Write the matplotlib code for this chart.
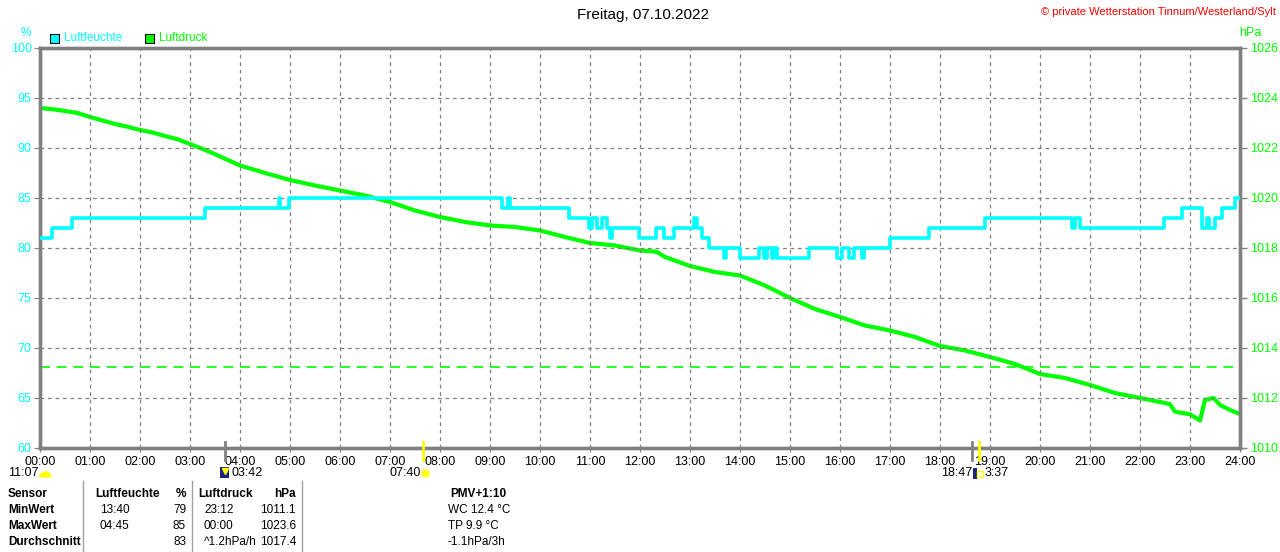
import matplotlib
matplotlib.use('Agg')
from matplotlib import pyplot as plt
from matplotlib.patches import Rectangle
import numpy as np

plt.rcParams['font.family'] = ['Liberation Sans', 'DejaVu Sans']

# Luftfeuchte (%), Stufenwerte: Zeit in Stunden, Wert gilt ab dieser Zeit
hum_t = [0.0, 0.24, 0.64, 3.3, 4.77, 4.8, 4.97, 9.23, 9.37, 9.4, 10.58,
         10.97, 11.03, 11.13, 11.23, 11.33, 11.4, 11.43, 11.97, 12.31, 12.48,
         12.67, 13.07, 13.13, 13.23, 13.37, 13.67, 13.71, 14.0, 14.37, 14.47,
         14.53, 14.63, 14.67, 14.73, 15.37, 15.93, 16.03, 16.17, 16.27, 16.43,
         16.47, 17.0, 17.77, 18.9, 20.63, 20.7, 20.8, 22.47, 22.83, 23.23,
         23.33, 23.37, 23.5, 23.63, 23.9, 24.0]
hum_v = [81, 82, 83, 84, 85, 84, 85, 84, 85, 84, 83,
         82, 83, 82, 83, 82, 81, 82, 81, 82, 81,
         82, 83, 82, 81, 80, 79, 80, 79, 80, 79,
         80, 79, 80, 79, 80, 79, 80, 79, 80, 79,
         80, 81, 82, 83, 82, 83, 82, 83, 84, 82,
         83, 82, 83, 84, 85, 85]

# Luftdruck (hPa)
p_t = [0.0, 0.25, 0.5, 0.75, 1.0, 1.25, 1.5, 1.75, 2.0, 2.25, 2.5, 2.75, 3.0,
       3.33, 3.67, 4.0, 4.5, 5.0, 5.5, 6.0, 6.5, 7.0, 7.5, 8.0, 8.5, 9.0, 9.5,
       10.0, 10.5, 11.0, 11.5, 12.0, 12.33, 12.5, 13.0, 13.5, 14.0, 14.5, 15.0,
       15.5, 16.0, 16.5, 17.0, 17.5, 18.0, 18.5, 19.0, 19.5, 20.0, 20.5, 21.0,
       21.5, 22.0, 22.5, 22.6, 22.7, 23.0, 23.2, 23.3, 23.47, 23.6, 23.8, 24.0]
p_v = [1023.6, 1023.55, 1023.48, 1023.4, 1023.24, 1023.1, 1022.96, 1022.85,
       1022.72, 1022.62, 1022.48, 1022.35, 1022.16, 1021.9, 1021.6, 1021.3,
       1021.0, 1020.72, 1020.5, 1020.3, 1020.1, 1019.84, 1019.5, 1019.24,
       1019.04, 1018.9, 1018.84, 1018.7, 1018.44, 1018.2, 1018.1, 1017.9,
       1017.85, 1017.64, 1017.28, 1017.04, 1016.9, 1016.5, 1016.0, 1015.56,
       1015.24, 1014.9, 1014.7, 1014.44, 1014.08, 1013.9, 1013.64, 1013.36,
       1012.96, 1012.8, 1012.52, 1012.2, 1012.0, 1011.8, 1011.75, 1011.45,
       1011.35, 1011.1, 1011.92, 1012.0, 1011.72, 1011.52, 1011.36]

p_norm = 1013.25

hour_labels = ['%02d:00' % h for h in range(25)]

fig = plt.figure(figsize=(12.8, 5.52), dpi=100)
ax = fig.add_axes([40 / 1280, 1 - 448 / 552, 1200 / 1280, 400 / 552])
ax2 = ax.twinx()

grey = '#808080'
cyan = '#00ffff'
green = '#00ff00'
yellow = '#ffff00'
navy = '#1a237e'

ax2.plot(p_t, p_v, color=green, lw=3.0, zorder=2)
ax2.axhline(p_norm, color=green, lw=1.2, ls=(0, (6, 4)), zorder=1)
ax2.set_ylim(1010, 1026)
ax2.set_yticks(range(1010, 1027, 2))
ax2.tick_params(axis='y', labelcolor=green, color=grey, labelsize=9,
                length=5, width=1, pad=2)

ax.set_zorder(ax2.get_zorder() + 1)
ax.patch.set_visible(False)
ax.step(hum_t, hum_v, where='post', color=cyan, lw=2.6, zorder=3)
ax.set_xlim(0, 24)
ax.set_ylim(60, 100)
ax.set_yticks(range(60, 101, 5))
ax.set_xticks(range(25))
ax.set_xticklabels(hour_labels)
ax.tick_params(axis='y', labelcolor=cyan, color=grey, labelsize=9, length=4, pad=2)
ax.tick_params(axis='x', labelcolor='black', color=grey, labelsize=9, length=3, pad=3)
ax.grid(True, color=grey, ls=(0, (3, 3)), lw=0.9)

for a in (ax, ax2):
    for s in a.spines.values():
        s.set_color(grey)
        s.set_linewidth(2.4)

# Sonnen-/Mondmarken an der x-Achse
ax.plot([3.7, 3.7], [58.8, 60.6], color=grey, lw=2, clip_on=False, zorder=5)
ax.plot([7.667, 7.667], [58.8, 60.6], color=yellow, lw=2, clip_on=False, zorder=5)
ax.plot([18.63, 18.63], [58.8, 60.6], color=grey, lw=2, clip_on=False, zorder=5)
ax.plot([18.78, 18.78], [58.8, 60.6], color=yellow, lw=2, clip_on=False, zorder=5)

# Texte oben
fig.text(643 / 1280, 1 - 15 / 552, 'Freitag, 07.10.2022', ha='center', va='center', fontsize=11)
fig.text(1276 / 1280, 1 - 12 / 552, '\u00a9 private Wetterstation Tinnum/Westerland/Sylt',
         ha='right', va='center', fontsize=8, color='red')
fig.text(26 / 1280, 1 - 33 / 552, '%', ha='center', va='center', fontsize=8.5, color=cyan)
fig.text(1250 / 1280, 1 - 33 / 552, 'hPa', ha='center', va='center', fontsize=9, color=green)

fig.patches.append(Rectangle((50 / 1280, 1 - 43 / 552), 9 / 1280, 9 / 552,
                             transform=fig.transFigure, facecolor=cyan, edgecolor='black', lw=0.8))
fig.text(64 / 1280, 1 - 38 / 552, 'Luftfeuchte', va='center', fontsize=8.5, color=cyan)
fig.patches.append(Rectangle((145 / 1280, 1 - 43 / 552), 9 / 1280, 9 / 552,
                             transform=fig.transFigure, facecolor=green, edgecolor='black', lw=0.8))
fig.text(159 / 1280, 1 - 38 / 552, 'Luftdruck', va='center', fontsize=8.5, color=green)

# Zeiten unter der Achse
yz = 1 - 473 / 552
fig.text(8 / 1280, yz, '11:07', va='center', fontsize=9)
fig.add_artist(plt.Line2D([45 / 1280], [1 - 477 / 552], marker='o', ms=9, fillstyle='top',
                          transform=fig.transFigure, color=yellow, mec='none',
                          markerfacecoloralt='none'))
fig.patches.append(Rectangle((220 / 1280, 1 - 478 / 552), 9 / 1280, 11 / 552,
                             transform=fig.transFigure, facecolor=navy, edgecolor='none'))
fig.add_artist(plt.Line2D([224.5 / 1280], [1 - 471 / 552], marker='v', ms=4,
                          transform=fig.transFigure, color=yellow, mec=yellow))
fig.text(231 / 1280, yz, '03:42', va='center', fontsize=9)
fig.text(390 / 1280, yz, '07:40', va='center', fontsize=9)
fig.add_artist(plt.Line2D([425 / 1280], [1 - 473 / 552], marker='o', ms=6,
                          transform=fig.transFigure, color=yellow, mec='#ffff99'))
fig.text(972 / 1280, yz, '18:47', va='center', ha='right', fontsize=9)
fig.patches.append(Rectangle((973 / 1280, 1 - 479 / 552), 4 / 1280, 11 / 552,
                             transform=fig.transFigure, facecolor=navy, edgecolor='none'))
fig.add_artist(plt.Line2D([980 / 1280], [1 - 474 / 552], marker='s', ms=4,
                          transform=fig.transFigure, color='none', mec=yellow, mew=1))
fig.text(985 / 1280, yz, '3:37', va='center', fontsize=9)

# Tabelle unten
for xl in (83, 192, 302):
    fig.add_artist(plt.Line2D([xl / 1280, xl / 1280], [0, 1 - 481 / 552],
                              transform=fig.transFigure, color='#a0a0a0', lw=1))

rows_y = [494, 510, 526, 542]
col_sensor = ['Sensor', 'MinWert', 'MaxWert', 'Durchschnitt']
col_h_time = ['Luftfeuchte', '13:40', '04:45', '']
col_h_val = ['%', '79', '85', '83']
col_p_time = ['Luftdruck', '23:12', '00:00', '^1.2hPa/h']
col_p_val = ['hPa', '1011.1', '1023.6', '1017.4']
col_extra = ['PMV+1:10', 'WC 12.4 \u00b0C', 'TP 9.9 \u00b0C', '-1.1hPa/3h']

for i, yy in enumerate(rows_y):
    y = 1 - yy / 552
    head = (i == 0)
    w = 'bold' if head else 'normal'
    fig.text(8 / 1280, y, col_sensor[i], va='center', fontsize=8.5, weight='bold')
    fig.text((95 if head else 100) / 1280, y, col_h_time[i], va='center', fontsize=8.5, weight=w)
    fig.text(186 / 1280, y, col_h_val[i], va='center', ha='right', fontsize=8.5, weight=w)
    fig.text((198 if head else 204) / 1280, y, col_p_time[i], va='center', fontsize=8.5, weight=w)
    fig.text(296 / 1280, y, col_p_val[i], va='center', ha='right', fontsize=8.5, weight=w)
    if head:
        fig.text(478 / 1280, y, col_extra[i], va='center', ha='center', fontsize=8.5, weight='bold')
    else:
        fig.text(448 / 1280, y, col_extra[i], va='center', fontsize=8.5)

fig.savefig('out.png', dpi=100)
